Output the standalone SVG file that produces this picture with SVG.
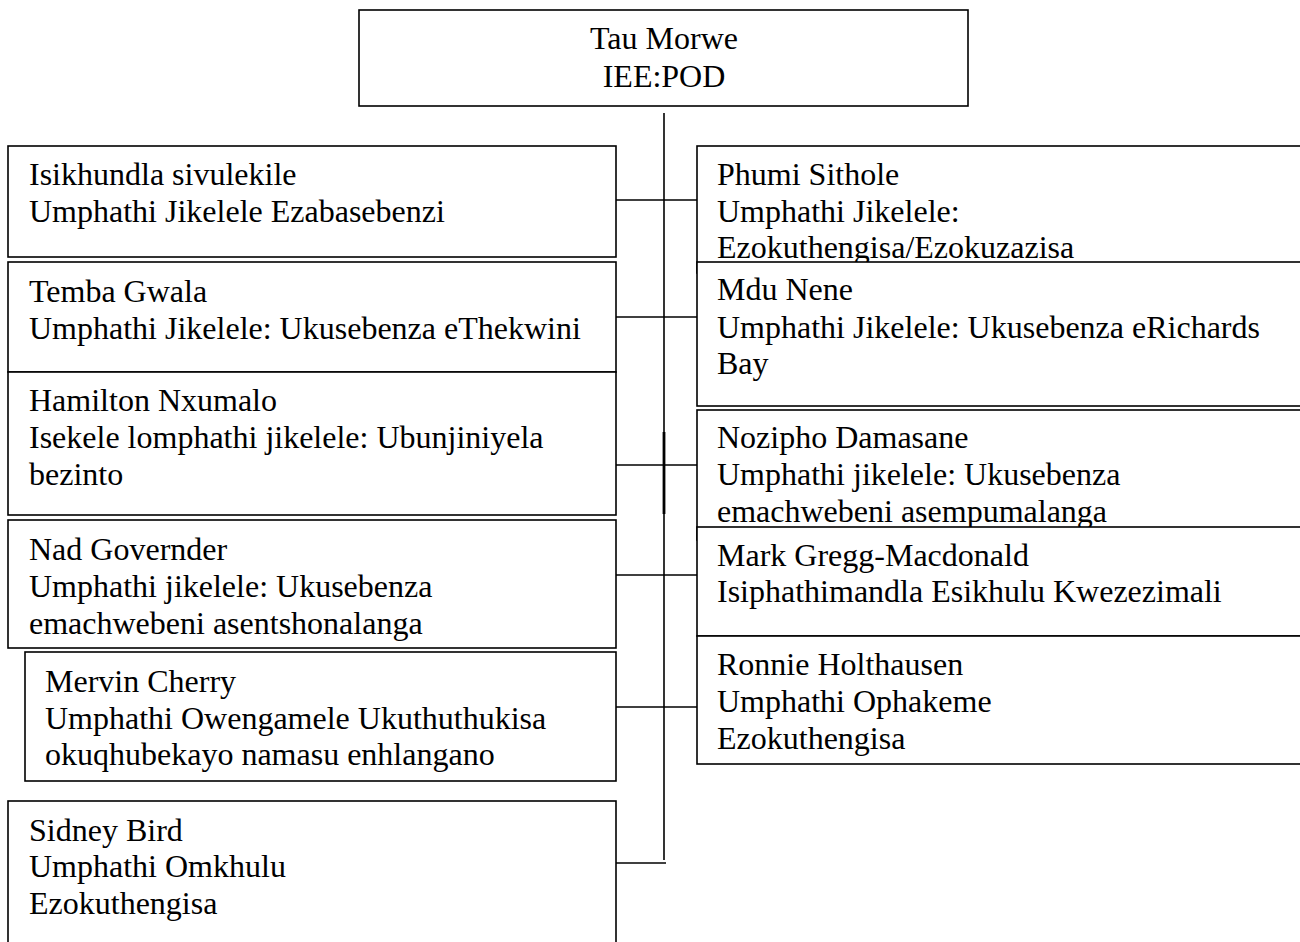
<svg xmlns="http://www.w3.org/2000/svg" width="1300" height="942" viewBox="0 0 1300 942">
<style>
  .box { fill: #ffffff; stroke: #000000; stroke-width: 1.6; }
  .t { font-family: "Liberation Serif", "Times New Roman", serif; font-size: 32px; fill: #000000; }
  .c { text-anchor: middle; }
  .ln { stroke: #000000; stroke-width: 1.6; fill: none; }
</style>
<rect x="0" y="0" width="1300" height="942" fill="#ffffff"/>

<g id="connectors">
  <line class="ln" x1="664" y1="113" x2="664" y2="860"/>
  <line x1="664" y1="432" x2="664" y2="514" stroke="#000000" stroke-width="2.8"/>
  <line class="ln" x1="616" y1="200" x2="697" y2="200"/>
  <line class="ln" x1="616" y1="317" x2="697" y2="317"/>
  <line class="ln" x1="616" y1="465" x2="697" y2="465"/>
  <line class="ln" x1="616" y1="575" x2="697" y2="575"/>
  <line class="ln" x1="616" y1="707" x2="697" y2="707"/>
  <line class="ln" x1="616" y1="863" x2="666" y2="863"/>
</g>

<g id="node-tau-morwe">
  <rect class="box" x="359" y="10" width="609" height="96"/>
  <text class="t c" x="664" y="49">Tau Morwe</text>
  <text class="t c" x="664" y="87">IEE:POD</text>
</g>

<g id="node-isikhundla">
  <rect class="box" x="8" y="146" width="608" height="111"/>
  <text class="t" x="29" y="185">Isikhundla sivulekile</text>
  <text class="t" x="29" y="222">Umphathi Jikelele Ezabasebenzi</text>
</g>

<g id="node-temba-gwala">
  <rect class="box" x="8" y="262" width="608" height="110"/>
  <text class="t" x="29" y="302">Temba Gwala</text>
  <text class="t" x="29" y="339">Umphathi Jikelele: Ukusebenza eThekwini</text>
</g>

<g id="node-hamilton-nxumalo">
  <rect class="box" x="8" y="372" width="608" height="143"/>
  <text class="t" x="29" y="411">Hamilton Nxumalo</text>
  <text class="t" x="29" y="448">Isekele lomphathi jikelele: Ubunjiniyela</text>
  <text class="t" x="29" y="485">bezinto</text>
</g>

<g id="node-nad-governder">
  <rect class="box" x="8" y="520" width="608" height="128"/>
  <text class="t" x="29" y="560">Nad Governder</text>
  <text class="t" x="29" y="597">Umphathi jikelele: Ukusebenza</text>
  <text class="t" x="29" y="634">emachwebeni asentshonalanga</text>
</g>

<g id="node-mervin-cherry">
  <rect class="box" x="25" y="652" width="591" height="129"/>
  <text class="t" x="45" y="692">Mervin Cherry</text>
  <text class="t" x="45" y="729">Umphathi Owengamele Ukuthuthukisa</text>
  <text class="t" x="45" y="765">okuqhubekayo namasu enhlangano</text>
</g>

<g id="node-sidney-bird">
  <rect class="box" x="8" y="801" width="608" height="160"/>
  <text class="t" x="29" y="841">Sidney Bird</text>
  <text class="t" x="29" y="877">Umphathi Omkhulu</text>
  <text class="t" x="29" y="914">Ezokuthengisa</text>
</g>

<g id="node-phumi-sithole">
  <rect class="box" x="697" y="146" width="613" height="127"/>
  <text class="t" x="717" y="185">Phumi Sithole</text>
  <text class="t" x="717" y="222">Umphathi Jikelele:</text>
  <text class="t" x="717" y="258">Ezokuthengisa/Ezokuzazisa</text>
</g>

<g id="node-mdu-nene">
  <rect class="box" x="697" y="262" width="613" height="144"/>
  <text class="t" x="717" y="300">Mdu Nene</text>
  <text class="t" x="717" y="338">Umphathi Jikelele: Ukusebenza eRichards</text>
  <text class="t" x="717" y="374">Bay</text>
</g>

<g id="node-nozipho-damasane">
  <rect class="box" x="697" y="410" width="613" height="130"/>
  <text class="t" x="717" y="448">Nozipho Damasane</text>
  <text class="t" x="717" y="485">Umphathi jikelele: Ukusebenza</text>
  <text class="t" x="717" y="522">emachwebeni asempumalanga</text>
</g>

<g id="node-mark-gregg-macdonald">
  <rect class="box" x="697" y="527" width="613" height="109"/>
  <text class="t" x="717" y="566">Mark Gregg-Macdonald</text>
  <text class="t" x="717" y="602">Isiphathimandla Esikhulu Kwezezimali</text>
</g>

<g id="node-ronnie-holthausen">
  <rect class="box" x="697" y="636" width="613" height="128"/>
  <text class="t" x="717" y="675">Ronnie Holthausen</text>
  <text class="t" x="717" y="712">Umphathi Ophakeme</text>
  <text class="t" x="717" y="749">Ezokuthengisa</text>
</g>
</svg>
